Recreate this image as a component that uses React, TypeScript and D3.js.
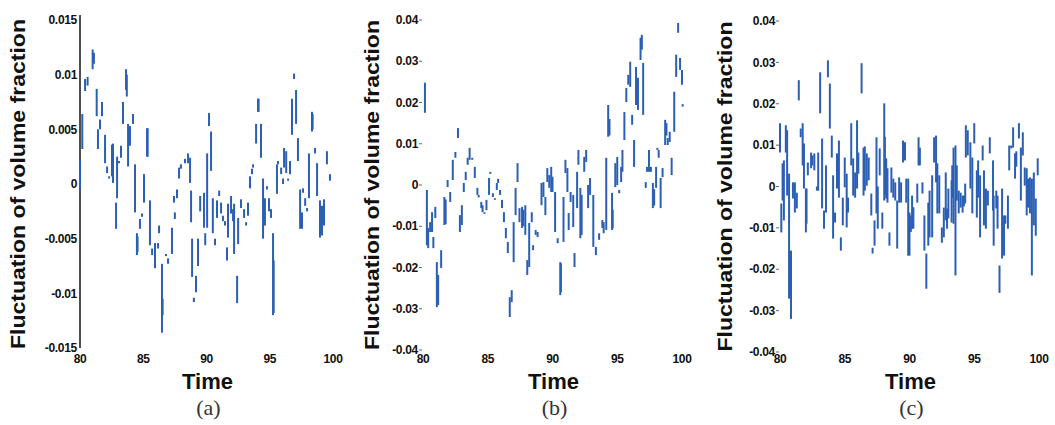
import React from "react";
import * as d3 from "d3";

// ---------- DATA ----------
const xTicks = [80, 85, 90, 95, 100];
const xTickLabels = ["80", "85", "90", "95", "100"];

const yTicksA = [0.015, 0.01, 0.005, 0, -0.005, -0.01, -0.015];
const yTickLabelsA = ["0.015", "0.01", "0.005", "0", "-0.005", "-0.01", "-0.015"];
const yTicksBC = [0.04, 0.03, 0.02, 0.01, 0, -0.01, -0.02, -0.03, -0.04];
const yTickLabelsBC = ["0.04", "0.03", "0.02", "0.01", "0", "-0.01", "-0.02", "-0.03", "-0.04"];

const yLabel = "Fluctuation of volume fraction";
const xLabel = "Time";
const captions = ["(a)", "(b)", "(c)"];

// [time, upper value, lower value] of each visible vertical stroke
const seriesA: [number, number, number][] = [
  [80.0, 0.0022, -0.0005], [80.18, 0.0064, 0.0032], [80.4, 0.0096, 0.0085], [80.6, 0.0098, 0.009],
  [81.0, 0.0123, 0.0105], [81.1, 0.012, 0.011], [81.32, 0.0087, 0.0062], [81.42, 0.005, 0.0032],
  [81.58, 0.0059, 0.005], [81.74, 0.0075, 0.0062], [81.98, 0.0045, 0.0019], [82.14, 0.0016, 0.001],
  [82.3, 0.0007, 0.0005], [82.53, 0.0036, 0.0007], [82.61, 0.0037, 0.0001], [82.85, -0.0017, -0.0041],
  [82.93, 0.0025, -0.0013], [83.08, 0.0021, 0.0019], [83.24, 0.0035, 0.0024], [83.4, 0.0075, 0.0055],
  [83.64, 0.0105, 0.0086], [83.7, 0.01, 0.008], [83.8, 0.0055, 0.0016], [83.95, 0.0053, 0.0035],
  [84.19, 0.0064, 0.0055], [84.35, 0.0018, -0.0026], [84.5, -0.0045, -0.0065], [84.55, -0.0048, -0.0062],
  [84.74, -0.0032, -0.0041], [84.9, -0.0027, -0.003], [85.06, 0.0009, -0.0017], [85.3, 0.0051, 0.0025],
  [85.35, 0.0051, 0.0025], [85.53, -0.0015, -0.0056], [85.7, -0.0059, -0.0065], [85.93, -0.0054, -0.0077],
  [86.17, -0.0054, -0.0059], [86.25, -0.0038, -0.0045], [86.48, -0.0073, -0.0136], [86.53, -0.0105, -0.012],
  [86.8, -0.0064, -0.0066], [86.96, -0.0068, -0.0073], [87.27, -0.004, -0.0064], [87.43, -0.0011, -0.0017],
  [87.5, -0.0026, -0.0032], [87.67, -0.0005, -0.0013], [87.83, 0.0015, 0.0005], [87.98, 0.0018, 0.0014],
  [88.3, 0.0023, 0.0019], [88.54, 0.0028, 0.0019], [88.7, 0.0024, 0.0001], [88.78, -0.0006, -0.0035],
  [88.86, -0.005, -0.0085], [89.0, -0.0104, -0.0108], [89.17, -0.0084, -0.0099], [89.33, -0.005, -0.0075],
  [89.5, -0.0011, -0.0025], [89.8, -0.0008, -0.004], [89.9, -0.0045, -0.0056], [90.05, 0.0028, -0.004],
  [90.2, 0.0065, 0.0053], [90.36, 0.0048, 0.0012], [90.5, -0.0013, -0.0045], [90.67, -0.005, -0.0056],
  [90.83, -0.0015, -0.0031], [91.0, -0.0006, -0.0011], [91.15, -0.0017, -0.0027], [91.3, -0.0029, -0.0034],
  [91.46, -0.0034, -0.0038], [91.62, -0.0058, -0.007], [91.7, -0.0018, -0.0049], [91.94, -0.0011, -0.0027],
  [92.1, -0.0023, -0.0034], [92.18, -0.0018, -0.0064], [92.42, -0.0084, -0.0109], [92.5, -0.0031, -0.0055],
  [92.73, -0.0014, -0.0022], [92.97, -0.0023, -0.0031], [93.13, -0.0035, -0.0038], [93.28, -0.0017, -0.0029],
  [93.44, 0.0007, -0.0004], [93.6, 0.0014, 0.0009], [93.68, 0.0018, 0.0015], [93.92, 0.0055, 0.0037],
  [94.07, 0.0078, 0.0066], [94.12, 0.0078, 0.0066], [94.31, 0.0055, 0.0024], [94.47, 0.0005, -0.005],
  [94.62, -0.0013, -0.0038], [94.78, -0.0002, -0.0005], [94.94, -0.0013, -0.0025], [95.1, -0.0023, -0.0031],
  [95.26, -0.0045, -0.012], [95.31, -0.007, -0.0118], [95.57, 0.0018, -0.0009], [95.65, 0.0021, 0.0018],
  [95.9, 0.0015, 0.0009], [96.05, 0.0005, 0.0], [96.13, 0.0033, 0.0015], [96.3, 0.003, 0.001],
  [96.45, 0.0005, 0.0003], [96.6, 0.0021, 0.0009], [96.76, 0.0078, 0.0045], [96.92, 0.0101, 0.0096],
  [97.08, 0.0086, 0.0055], [97.23, 0.0042, 0.0021], [97.4, -0.0005, -0.0041], [97.55, -0.0026, -0.0041],
  [97.63, -0.0004, -0.0008], [97.8, -0.0013, -0.002], [97.95, -0.0022, -0.0025], [98.1, 0.0028, -0.0013],
  [98.34, 0.0066, 0.0048], [98.39, 0.0064, 0.005], [98.58, 0.0033, 0.0028], [98.74, 0.0019, -0.0011],
  [98.97, -0.0015, -0.0049], [99.05, -0.002, -0.0045], [99.13, -0.002, -0.0047], [99.29, -0.0014, -0.0038],
  [99.52, 0.003, 0.0018], [99.76, 0.0009, 0.0003],
];

const seriesB: [number, number, number][] = [
  [80.15, 0.0248, 0.0175], [80.3, -0.0012, -0.0146], [80.4, -0.0104, -0.0153], [80.55, -0.009, -0.0114],
  [80.7, -0.0066, -0.0114], [80.8, -0.0126, -0.0153], [80.95, -0.0053, -0.008], [81.07, -0.0187, -0.0296],
  [81.17, -0.0218, -0.0291], [81.4, -0.0158, -0.0201], [81.65, -0.0029, -0.0097], [81.75, -0.0035, -0.0095],
  [81.9, 0.0012, -0.0005], [82.1, -0.0017, -0.0041], [82.3, 0.0061, 0.0012], [82.5, 0.008, 0.0066],
  [82.7, 0.0138, 0.0114], [82.85, -0.0073, -0.0114], [83.0, -0.0049, -0.0097], [83.15, 0.0005, -0.0017],
  [83.3, 0.0032, 0.0012], [83.45, 0.0066, 0.0049], [83.6, 0.009, 0.0061], [83.8, 0.0066, 0.0061],
  [84.0, 0.0044, 0.0017], [84.2, -0.0007, -0.0024], [84.3, -0.0024, -0.003], [84.5, -0.0041, -0.0056],
  [84.6, -0.0049, -0.0066], [84.75, -0.0066, -0.007], [84.9, -0.0036, -0.0061], [85.1, 0.0017, -0.0024],
  [85.2, 0.0032, 0.0027], [85.4, -0.002, -0.0029], [85.55, -0.0032, -0.0036], [85.7, 0.0005, -0.0012],
  [85.8, 0.0015, 0.0005], [85.95, -0.0012, -0.0024], [86.1, -0.0036, -0.0056], [86.25, -0.0066, -0.009],
  [86.4, -0.0104, -0.0129], [86.55, -0.0138, -0.0165], [86.7, -0.0272, -0.032], [86.85, -0.0255, -0.0284],
  [87.0, -0.009, -0.0187], [87.15, -0.0007, -0.0073], [87.3, 0.0053, 0.0007], [87.45, -0.0056, -0.009],
  [87.65, -0.0053, -0.0104], [87.75, -0.006, -0.01], [87.9, -0.0049, -0.0121], [88.05, -0.0182, -0.0218],
  [88.2, -0.0092, -0.0199], [88.4, -0.0066, -0.009], [88.5, -0.0146, -0.0158], [88.7, -0.0109, -0.0121],
  [88.85, -0.0114, -0.0126], [89.15, 0.0005, -0.0049], [89.3, 0.0007, -0.0029], [89.45, -0.0029, -0.0073],
  [89.6, 0.0041, 0.0007], [89.75, 0.0024, -0.0007], [89.9, 0.0044, -0.0017], [90.0, 0.002, -0.0017],
  [90.2, -0.0017, -0.0114], [90.4, -0.0129, -0.0141], [90.6, -0.0187, -0.0267], [90.65, -0.019, -0.026],
  [90.85, -0.0029, -0.0138], [91.0, 0.0061, 0.0029], [91.15, 0.0041, -0.0017], [91.25, -0.0068, -0.0109],
  [91.4, -0.0017, -0.0041], [91.6, -0.0024, -0.0102], [91.7, -0.0165, -0.0199], [91.9, 0.0032, -0.0056],
  [92.0, 0.0085, 0.0049], [92.15, -0.0007, -0.0129], [92.25, -0.0024, -0.0121], [92.45, 0.0068, 0.0032],
  [92.6, 0.0085, 0.0056], [92.75, 0.0, -0.0056], [92.9, 0.0017, -0.0024], [93.15, -0.0024, -0.015],
  [93.35, -0.015, -0.017], [93.6, -0.0117, -0.0133], [93.85, -0.0085, -0.0104], [93.95, -0.009, -0.0117],
  [94.15, 0.0066, -0.0109], [94.3, 0.0194, 0.0117], [94.4, 0.016, 0.012], [94.6, -0.0019, -0.0109],
  [94.65, -0.006, -0.0105], [94.85, 0.0053, -0.0005], [95.0, 0.0068, 0.0], [95.15, -0.0012, -0.002],
  [95.3, 0.0044, 0.0007], [95.4, 0.0085, 0.0032], [95.55, 0.0177, 0.0109], [95.7, 0.0235, 0.0201],
  [95.85, 0.0267, 0.0243], [96.0, 0.0299, 0.0238], [96.15, 0.017, 0.0146], [96.3, 0.0109, 0.0044],
  [96.45, 0.0286, 0.0194], [96.6, 0.026, 0.0182], [96.8, 0.0357, 0.0303], [96.9, 0.0364, 0.0328],
  [97.0, 0.0296, 0.017], [97.2, 0.0007, -0.0007], [97.3, 0.0044, 0.0032], [97.45, 0.0085, 0.0032],
  [97.6, 0.0044, 0.0032], [97.75, 0.0005, -0.0056], [97.85, -0.001, -0.005], [98.0, 0.0044, -0.0007],
  [98.1, 0.009, 0.0085], [98.2, 0.0085, 0.0066], [98.35, 0.0017, -0.0056], [98.5, 0.0041, 0.0019],
  [98.7, 0.0158, 0.0097], [98.8, 0.015, 0.012], [98.9, 0.0114, 0.0097], [99.05, 0.0129, 0.0104],
  [99.2, 0.0066, 0.0024], [99.4, 0.0226, 0.0129], [99.55, 0.0316, 0.0262], [99.7, 0.0393, 0.0369],
  [99.85, 0.0308, 0.0279], [100.0, 0.0279, 0.0243], [100.05, 0.0196, 0.019],
];

const seriesC: [number, number, number][] = [
  [80.0, 0.0153, 0.0082], [80.1, -0.0041, -0.0111], [80.2, 0.0056, -0.0034], [80.3, 0.0063, -0.0082],
  [80.45, 0.0148, 0.0082], [80.55, 0.0136, -0.0022], [80.7, 0.0031, -0.0271], [80.85, -0.0155, -0.032],
  [81.0, 0.001, -0.0029], [81.15, 0.001, -0.0063], [81.3, -0.0015, -0.0053], [81.45, 0.0257, 0.0208],
  [81.6, 0.014, 0.0119], [81.75, 0.0153, 0.0051], [81.85, 0.0104, -0.0005], [82.0, -0.0005, -0.0111],
  [82.05, -0.0005, -0.009], [82.15, 0.0058, 0.0027], [82.4, 0.0082, 0.0044], [82.5, 0.0075, 0.0051],
  [82.65, 0.008, 0.0039], [82.85, 0.0, -0.001], [82.95, 0.0082, -0.001], [83.1, 0.0276, 0.0177],
  [83.25, 0.0116, -0.0053], [83.4, -0.0058, -0.0102], [83.55, 0.0051, -0.0063], [83.7, 0.0305, 0.0264],
  [83.85, 0.0249, 0.014], [84.0, 0.0123, 0.007], [84.1, 0.0027, -0.0126], [84.25, -0.0063, -0.0087],
  [84.4, 0.008, -0.0005], [84.55, 0.0111, -0.0027], [84.7, -0.0123, -0.0155], [84.85, -0.0027, -0.0094],
  [85.0, 0.007, -0.0002], [85.15, 0.0031, -0.0099], [85.25, -0.0027, -0.0063], [85.5, 0.0153, 0.0051],
  [85.65, 0.0068, -0.0022], [85.8, 0.0034, -0.0027], [85.95, 0.016, -0.0005], [86.05, 0.0082, 0.0031],
  [86.3, 0.0298, 0.0225], [86.45, 0.0094, -0.0022], [86.55, 0.0097, -0.001], [86.7, 0.008, 0.0002],
  [86.85, 0.007, 0.0015], [87.05, -0.0017, -0.007], [87.15, -0.0148, -0.0162], [87.3, -0.0082, -0.0143],
  [87.45, 0.0119, -0.0065], [87.55, 0.0, -0.0102], [87.7, 0.0092, 0.0027], [87.9, -0.0063, -0.0102],
  [88.05, 0.0201, -0.0034], [88.1, 0.012, -0.002], [88.2, 0.0068, -0.0029], [88.3, 0.0044, -0.0039],
  [88.45, -0.0111, -0.0143], [88.6, 0.0046, -0.0015], [88.75, 0.0019, -0.0027], [88.9, 0.001, -0.0034],
  [89.05, -0.0034, -0.015], [89.2, 0.0022, -0.0039], [89.35, 0.001, -0.0039], [89.5, 0.0111, 0.0058],
  [89.65, 0.0107, 0.0063], [89.75, 0.0019, -0.0039], [89.9, 0.0019, -0.0167], [90.0, -0.0063, -0.0167],
  [90.1, -0.007, -0.011], [90.2, -0.0022, -0.0102], [90.3, -0.005, -0.0102], [90.6, 0.0007, -0.0039],
  [90.7, 0.0119, 0.0051], [90.8, 0.0094, 0.0051], [91.0, 0.001, -0.0017], [91.15, -0.007, -0.0155],
  [91.3, -0.0162, -0.0247], [91.45, -0.0039, -0.0143], [91.55, -0.001, -0.0123], [91.75, 0.0027, -0.0123],
  [91.9, 0.0119, 0.0058], [92.05, 0.0123, 0.001], [92.15, 0.0056, -0.0065], [92.3, 0.0027, -0.0065],
  [92.5, -0.0099, -0.0136], [92.65, -0.0051, -0.0123], [92.8, 0.0034, -0.0082], [92.9, -0.0053, -0.0102],
  [93.0, -0.0005, -0.0077], [93.25, 0.0015, -0.0087], [93.3, 0.0051, -0.0027], [93.4, 0.0094, -0.009],
  [93.55, 0.0099, -0.0215], [93.65, 0.0051, -0.0034], [93.8, -0.001, -0.0065], [93.95, -0.0015, -0.0051],
  [94.1, -0.0022, -0.0063], [94.2, -0.0022, -0.0048], [94.3, 0.0007, -0.0041], [94.35, 0.0148, 0.007],
  [94.5, 0.0136, 0.0075], [94.7, 0.0107, -0.0005], [94.85, 0.007, -0.0065], [95.0, 0.0153, 0.0104],
  [95.2, 0.0039, -0.0075], [95.3, 0.0063, -0.0027], [95.45, 0.0027, -0.0123], [95.65, 0.0099, 0.0063],
  [95.75, 0.0039, -0.0094], [95.9, -0.0005, -0.0102], [96.05, -0.001, -0.0046], [96.2, 0.0119, 0.008],
  [96.45, 0.0063, -0.0058], [96.5, -0.0022, -0.0143], [96.7, -0.001, -0.0053], [96.8, -0.0022, -0.0102],
  [96.95, -0.0191, -0.0257], [97.15, -0.0005, -0.0174], [97.3, -0.007, -0.0167], [97.4, -0.007, -0.009],
  [97.6, -0.0022, -0.0102], [97.7, 0.0099, 0.0039], [97.85, 0.0099, 0.0092], [98.0, 0.0143, 0.0094],
  [98.15, 0.008, 0.0019], [98.25, 0.0085, 0.0048], [98.45, 0.0153, 0.0116], [98.6, 0.0094, -0.0034],
  [98.75, 0.0131, 0.0075], [98.9, 0.0046, 0.0002], [99.05, 0.0044, -0.007], [99.15, 0.0019, -0.0051],
  [99.3, 0.0022, -0.0065], [99.45, 0.0019, -0.0215], [99.6, 0.0034, -0.0094], [99.75, -0.0029, -0.0119],
  [99.9, 0.0068, 0.0027],
];

// ---------- LAYOUT ----------
const W = 1055;
const H = 425;
const LINE = "#2b5fb4";
const SANS = "'Liberation Sans', Arial, sans-serif";
const SERIF = "'Liberation Serif', 'DejaVu Serif', serif";

type PanelCfg = {
  data: [number, number, number][];
  xr: [number, number];
  yDomain: [number, number];
  yr: [number, number];
  yTicks: number[];
  yTickLabels: string[];
  yLabelX: number;
  axisLine: boolean;
  tickMarks: boolean;
  caption: string;
};

const panels: PanelCfg[] = [
  {
    data: seriesA, xr: [80, 333], yDomain: [-0.015, 0.015], yr: [348, 20],
    yTicks: yTicksA, yTickLabels: yTickLabelsA, yLabelX: 18, axisLine: true, tickMarks: false, caption: captions[0],
  },
  {
    data: seriesB, xr: [423, 682], yDomain: [-0.04, 0.04], yr: [350, 20],
    yTicks: yTicksBC, yTickLabels: yTickLabelsBC, yLabelX: 372, axisLine: false, tickMarks: true, caption: captions[1],
  },
  {
    data: seriesC, xr: [780, 1039], yDomain: [-0.04, 0.04], yr: [352, 21],
    yTicks: yTicksBC, yTickLabels: yTickLabelsBC, yLabelX: 725, axisLine: false, tickMarks: true, caption: captions[2],
  },
];

function Panel({ cfg }: { cfg: PanelCfg }) {
  const x = d3.scaleLinear().domain([80, 100]).range(cfg.xr);
  const y = d3.scaleLinear().domain(cfg.yDomain).range(cfg.yr);
  const x0 = cfg.xr[0];
  const xMid = (cfg.xr[0] + cfg.xr[1]) / 2;
  const yMid = (cfg.yr[0] + cfg.yr[1]) / 2;
  return (
    <g>
      {cfg.axisLine && (
        <line x1={x0} x2={x0} y1={cfg.yr[1] - 5} y2={cfg.yr[0]} stroke="#222" strokeWidth={1.6} />
      )}
      {cfg.yTicks.map((t, i) => (
        <g key={"yt" + i}>
          {cfg.tickMarks && (
            <line x1={x0 - 4} x2={x0 - 1} y1={y(t)} y2={y(t)} stroke="#666" strokeWidth={1} />
          )}
          <text
            x={x0 - (cfg.tickMarks ? 5 : 3)}
            y={y(t)}
            dy="0.35em"
            textAnchor="end"
            fontFamily={SANS}
            fontWeight="bold"
            fontSize={12}
            fill="#111"
            letterSpacing={-0.3}
          >
            {cfg.yTickLabels[i]}
          </text>
        </g>
      ))}
      {xTicks.map((t, i) => (
        <text
          key={"xt" + i}
          x={x(t)}
          y={363}
          textAnchor="middle"
          fontFamily={SANS}
          fontWeight="bold"
          fontSize={12}
          fill="#111"
          letterSpacing={-0.3}
        >
          {xTickLabels[i]}
        </text>
      ))}
      {cfg.data.map((d, i) => (
        <line
          key={"s" + i}
          x1={x(d[0])}
          x2={x(d[0])}
          y1={y(d[1])}
          y2={y(d[2])}
          stroke={LINE}
          strokeWidth={2}
        />
      ))}
      <text
        transform={`translate(${cfg.yLabelX},${yMid}) rotate(-90)`}
        textAnchor="middle"
        dy="0.35em"
        fontFamily={SANS}
        fontWeight="bold"
        fontSize={21}
        fill="#111"
        textLength={330}
        lengthAdjust="spacingAndGlyphs"
      >
        {yLabel}
      </text>
      <text
        x={xMid + 1}
        y={389}
        textAnchor="middle"
        fontFamily={SANS}
        fontWeight="bold"
        fontSize={22}
        fill="#111"
      >
        {xLabel}
      </text>
      <text x={xMid + 2} y={415} textAnchor="middle" fontFamily={SERIF} fontSize={22} fill="#333">
        {cfg.caption}
      </text>
    </g>
  );
}

export default function App() {
  return (
    <svg
      width={W}
      height={H}
      viewBox={`0 0 ${W} ${H}`}
      style={{ position: "absolute", left: 0, top: 0, background: "#fff" }}
    >
      <rect width={W} height={H} fill="#fff" />
      {panels.map((p, i) => (
        <Panel key={i} cfg={p} />
      ))}
    </svg>
  );
}
